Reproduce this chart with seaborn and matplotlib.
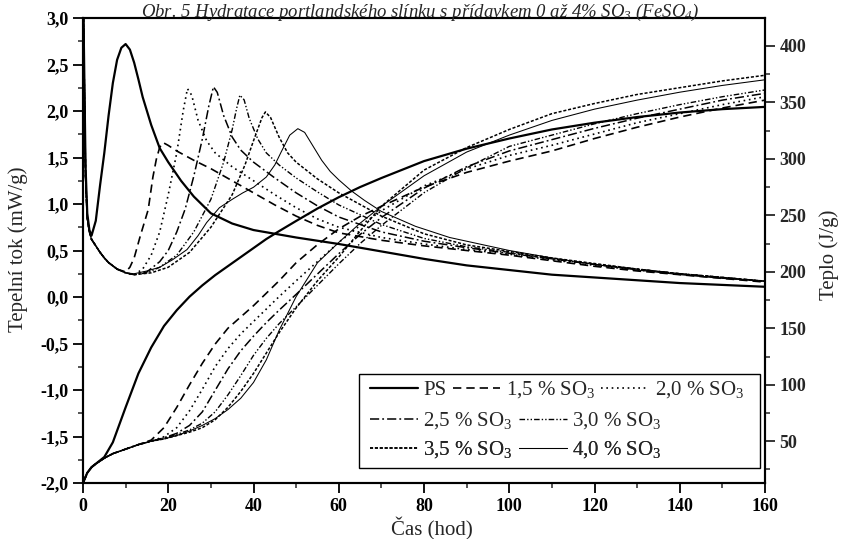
import numpy as np
import pandas as pd
import matplotlib
matplotlib.use("Agg")
import matplotlib.pyplot as plt
from matplotlib.lines import Line2D
from matplotlib.patches import Rectangle
from matplotlib.ticker import MultipleLocator, FuncFormatter
import seaborn as sns

# ---------------- data ----------------
series = ["PS", "1,5 % SO$_3$", "2,0 % SO$_3$", "2,5 % SO$_3$",
          "3,0 % SO$_3$", "3,5 % SO$_3$", "4,0 % SO$_3$"]

# heat flow (mW/g), left axis
flow_t_ps = [0, 0.3, 0.6, 1, 1.5, 2, 3, 4, 5, 6, 7, 8, 9, 10, 11, 12, 13, 14, 16, 18, 20, 23, 26, 30,
             35, 40, 45, 50, 60, 70, 80, 90, 100, 110, 120, 130, 140, 150, 160]
flow_v_ps = [3.4, 2.4, 1.4, 0.9, 0.72, 0.66, 0.82, 1.2, 1.55, 1.95, 2.3, 2.55, 2.68, 2.72, 2.66, 2.52,
             2.34, 2.15, 1.85, 1.6, 1.45, 1.25, 1.08, 0.9, 0.79, 0.72, 0.68, 0.64, 0.57, 0.49, 0.41,
             0.34, 0.29, 0.24, 0.21, 0.18, 0.15, 0.13, 0.11]

flow_t_15 = [0, 0.3, 0.6, 1, 1.5, 2, 3, 4, 5, 6, 8, 10, 11, 12, 13.4, 15.3, 16.4, 17.2, 18, 18.8,
             20, 22, 26, 30, 35, 40, 45, 50, 55, 60, 70, 80, 90, 100, 110, 120, 130, 140, 150, 160]
flow_v_15 = [3.4, 2.3, 1.3, 0.85, 0.7, 0.62, 0.55, 0.48, 0.42, 0.37, 0.3, 0.27, 0.32, 0.42, 0.65,
             0.94, 1.29, 1.48, 1.61, 1.66, 1.63, 1.57, 1.47, 1.38, 1.25, 1.12, 0.99, 0.87, 0.77,
             0.69, 0.61, 0.55, 0.5, 0.45, 0.39, 0.33, 0.28, 0.24, 0.2, 0.16]

flow_t_20 = [0, 0.3, 0.6, 1, 1.5, 2, 3, 4, 5, 6, 8, 10, 12, 14, 16, 18, 20, 22, 23.5, 24.5, 25.5,
             27, 29, 31, 35, 40, 45, 50, 55, 60, 70, 80, 90, 100, 110, 120, 130, 140, 150, 160]
flow_v_20 = [3.4, 2.3, 1.3, 0.85, 0.7, 0.62, 0.55, 0.48, 0.42, 0.37, 0.3, 0.26, 0.24, 0.3, 0.45,
             0.7, 1.1, 1.55, 2.0, 2.24, 2.17, 1.9, 1.68, 1.55, 1.4, 1.25, 1.1, 0.96, 0.84, 0.75,
             0.64, 0.57, 0.51, 0.46, 0.4, 0.34, 0.29, 0.25, 0.21, 0.17]

flow_t_25 = [0, 0.3, 0.6, 1, 1.5, 2, 3, 4, 5, 6, 8, 10, 12, 15, 18, 20, 22, 24, 26, 28, 29.5, 30.6,
             31.5, 33, 35, 37, 40, 45, 50, 55, 60, 70, 80, 90, 100, 110, 120, 130, 140, 150, 160]
flow_v_25 = [3.4, 2.3, 1.3, 0.85, 0.7, 0.62, 0.55, 0.48, 0.42, 0.37, 0.3, 0.26, 0.24, 0.27, 0.38,
             0.5, 0.7, 0.95, 1.3, 1.7, 2.05, 2.26, 2.2, 1.95, 1.72, 1.58, 1.45, 1.28, 1.12, 0.98,
             0.86, 0.7, 0.6, 0.53, 0.47, 0.41, 0.35, 0.3, 0.25, 0.21, 0.17]

flow_t_30 = [0, 0.3, 0.6, 1, 1.5, 2, 3, 4, 5, 6, 8, 10, 12, 15, 18, 22, 26, 30, 33, 35, 36, 36.8,
             37.8, 39, 41, 43, 46, 50, 55, 60, 70, 80, 90, 100, 110, 120, 130, 140, 150, 160]
flow_v_30 = [3.4, 2.3, 1.3, 0.85, 0.7, 0.62, 0.55, 0.48, 0.42, 0.37, 0.3, 0.26, 0.24, 0.26, 0.32,
             0.45, 0.7, 1.05, 1.45, 1.8, 2.02, 2.17, 2.12, 1.92, 1.7, 1.55, 1.42, 1.28, 1.13, 0.99,
             0.78, 0.63, 0.54, 0.48, 0.41, 0.35, 0.3, 0.25, 0.21, 0.17]

flow_t_35 = [0, 0.3, 0.6, 1, 1.5, 2, 3, 4, 5, 6, 8, 10, 12, 16, 20, 25, 30, 35, 38, 40, 42, 42.8,
             44, 46, 48, 50, 55, 60, 70, 80, 90, 100, 110, 120, 130, 140, 150, 160]
flow_v_35 = [3.4, 2.3, 1.3, 0.85, 0.7, 0.62, 0.55, 0.48, 0.42, 0.37, 0.3, 0.26, 0.24, 0.26, 0.32,
             0.48, 0.75, 1.1, 1.42, 1.68, 1.93, 1.99, 1.93, 1.72, 1.55, 1.45, 1.27, 1.12, 0.87,
             0.68, 0.56, 0.49, 0.42, 0.36, 0.3, 0.25, 0.21, 0.17]

flow_t_40 = [0, 0.3, 0.6, 1, 1.5, 2, 3, 4, 5, 6, 8, 10, 12, 15, 18, 21, 24.4, 27, 29, 32, 35, 37.5,
             40, 43, 45, 46.5, 48.5, 50.4, 52, 54, 56, 58, 60, 63, 66, 70, 78, 86, 94, 100, 110,
             120, 130, 140, 150, 160]
flow_v_40 = [3.4, 2.3, 1.3, 0.85, 0.7, 0.62, 0.55, 0.48, 0.42, 0.37, 0.3, 0.26, 0.25, 0.28, 0.32,
             0.4, 0.51, 0.66, 0.8, 0.96, 1.05, 1.12, 1.18, 1.29, 1.42, 1.56, 1.74, 1.81, 1.77, 1.62,
             1.47, 1.35, 1.26, 1.14, 1.04, 0.92, 0.76, 0.64, 0.56, 0.5, 0.42, 0.35, 0.29, 0.24, 0.2,
             0.17]

# cumulative heat (J/g), right axis
heat_t = [0, 1, 2, 3, 5, 7, 10, 13, 16, 19, 22, 25, 28, 31, 34, 37, 40, 43, 46, 50, 55, 60, 65, 70,
          80, 90, 100, 110, 120, 130, 140, 150, 160]
heat_ps = [13, 22, 27, 30, 36, 49, 80, 110, 133, 152, 166, 178, 188, 197, 205, 213, 221, 229, 236,
           245, 256, 266, 275, 283, 298, 309, 318, 326, 332, 337, 341, 344, 346]
heat_15 = [13, 22, 27, 30, 35, 39, 43, 47, 51, 62, 80, 100, 119, 136, 150, 160, 170, 181, 192, 208,
           224, 238, 249, 258, 275, 288, 298, 307, 318, 328, 337, 345, 352]
heat_20 = [13, 22, 27, 30, 35, 39, 43, 47, 50, 54, 62, 77, 96, 116, 132, 145, 156, 167, 178, 192,
           209, 226, 241, 254, 276, 291, 303, 312, 322, 332, 340, 348, 355]
heat_25 = [13, 22, 27, 30, 35, 39, 43, 47, 50, 53, 57, 64, 76, 95, 114, 130, 143, 155, 166, 180,
           198, 216, 233, 248, 274, 293, 307, 317, 327, 336, 344, 352, 358]
heat_30 = [13, 22, 27, 30, 35, 39, 43, 47, 50, 53, 56, 60, 66, 76, 91, 108, 126, 141, 154, 169,
           188, 207, 225, 241, 270, 292, 311, 321, 331, 340, 348, 355, 361]
heat_35 = [13, 22, 27, 30, 35, 39, 43, 47, 50, 52, 55, 58, 62, 69, 80, 94, 110, 128, 146, 168,
           192, 213, 236, 258, 290, 310, 326, 340, 349, 357, 363, 369, 374]
heat_40 = [13, 22, 27, 30, 35, 39, 43, 47, 50, 52, 55, 59, 64, 70, 78, 88, 102, 122, 148, 178, 208,
           226, 243, 258, 285, 306, 321, 334, 344, 352, 359, 365, 370]

flow_t = [flow_t_ps, flow_t_15, flow_t_20, flow_t_25, flow_t_30, flow_t_35, flow_t_40]
flow_v = [flow_v_ps, flow_v_15, flow_v_20, flow_v_25, flow_v_30, flow_v_35, flow_v_40]
heat_v = [heat_ps, heat_15, heat_20, heat_25, heat_30, heat_35, heat_40]

# ---------------- style ----------------
styles = ["-", (0, (5, 3)), (0, (1, 2.2)), (0, (6, 2, 1.2, 2)), (0, (4, 1.5, 1, 1.5, 1, 1.5)),
          (0, (2, 1.2)), "-"]
widths = [1.6, 1.2, 1.2, 1.1, 1.0, 1.1, 0.75]

sns.set_style("ticks")
plt.rcParams["font.family"] = ["Liberation Serif", "DejaVu Serif"]
plt.rcParams["mathtext.fontset"] = "custom"
plt.rcParams["mathtext.rm"] = "Liberation Serif"
plt.rcParams["mathtext.it"] = "Liberation Serif:italic"
plt.rcParams["mathtext.default"] = "regular"

fig = plt.figure(figsize=(8.43, 5.39), dpi=100)
ax = fig.add_axes([83 / 843, 56 / 539, 682 / 843, 465 / 539])
ax2 = ax.twinx()

for i, name in enumerate(series):
    df = pd.DataFrame({"t": flow_t[i], "v": flow_v[i]})
    sns.lineplot(data=df, x="t", y="v", ax=ax, color="black", lw=widths[i],
                 linestyle=styles[i], estimator=None, sort=False, legend=False)
    dh = pd.DataFrame({"t": heat_t, "h": heat_v[i]})
    sns.lineplot(data=dh, x="t", y="h", ax=ax2, color="black", lw=widths[i],
                 linestyle=styles[i], estimator=None, sort=False, legend=False)

ax.set_xlim(0, 160)
ax.set_ylim(-2.0, 3.0)
ax2.set_ylim(13, 424.7)

ax.xaxis.set_major_locator(MultipleLocator(20))
ax.xaxis.set_minor_locator(MultipleLocator(10))
ax.yaxis.set_major_locator(MultipleLocator(0.5))
ax.yaxis.set_minor_locator(MultipleLocator(0.25))
ax2.yaxis.set_major_locator(MultipleLocator(50))
ax2.yaxis.set_minor_locator(MultipleLocator(25))
ax2.set_yticks([50, 100, 150, 200, 250, 300, 350, 400])

ax.yaxis.set_major_formatter(FuncFormatter(lambda v, p: f"{v:.1f}".replace(".", ",").replace("\u2212", "-")))
ax.xaxis.set_major_formatter(FuncFormatter(lambda v, p: f"{v:.0f}"))

for a in (ax, ax2):
    for s in a.spines.values():
        s.set_linewidth(1.5)
        s.set_color("black")
    a.set_xlabel("")
    a.set_ylabel("")
ax.tick_params(axis="both", which="major", direction="out", length=7, width=1.3,
               labelsize=13, colors="black", right=False, top=False)
ax.tick_params(axis="both", which="minor", direction="out", length=3.5, width=1.1,
               right=False, top=False)
ax2.tick_params(axis="y", which="major", direction="out", length=7, width=1.3, labelsize=13)
ax2.tick_params(axis="y", which="minor", direction="out", length=3.5, width=1.1)
for lab in ax.get_xticklabels() + ax.get_yticklabels() + ax2.get_yticklabels():
    lab.set_fontweight("bold")

fig.text(18 / 843, 1 - 249 / 539, "Tepelní tok (mW/g)", rotation=90, ha="center", va="center",
         fontsize=15)
fig.text(829 / 843, 1 - 255 / 539, "Teplo (J/g)", rotation=90, ha="center", va="center",
         fontsize=15)
fig.text(432 / 843, 1 - 529 / 539, "Čas (hod)", ha="center", va="center", fontsize=15)
fig.text(420 / 843, 1 - 16.5 / 539,
         "Obr. 5 Hydratace portlandského slínku s přídavkem 0 až 4% SO$_3$ (FeSO$_4$)",
         ha="center", va="baseline", fontsize=13.5, style="italic")

# ---------------- legend (three rows inside a frame) ----------------
frame = Rectangle(((359 - 83) / 682, (483 - 468) / 465), (760 - 359) / 682, (468 - 374) / 465,
                  transform=ax.transAxes, facecolor="white", edgecolor="black", lw=1.0, zorder=4)
ax2.add_patch(frame)
handles = [Line2D([], [], color="black", lw=widths[i], linestyle=styles[i]) for i in range(7)]
rows = [([0, 1, 2], (483 - 390) / 465), ([3, 4], (483 - 421) / 465), ([5, 6], (483 - 450) / 465)]
for idx, yy in rows:
    leg = ax2.legend([handles[i] for i in idx], [series[i] for i in idx], loc="center left",
                     bbox_to_anchor=((370 - 83) / 682, yy), bbox_transform=ax.transAxes,
                     ncol=len(idx), frameon=False, fontsize=15, handlelength=2.3,
                     handletextpad=0.25, columnspacing=0.3, borderpad=0, borderaxespad=0)
    leg.set_zorder(6)
    ax2.add_artist(leg)

fig.savefig("out.png", dpi=100)
